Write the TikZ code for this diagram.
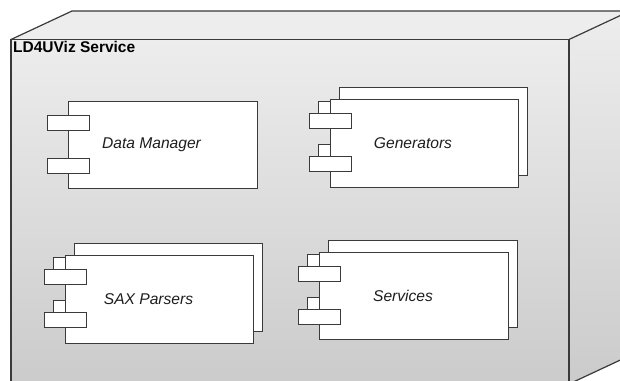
\documentclass[tikz,border=0pt]{standalone}
\usepackage{fontspec}
\setmainfont{Liberation Sans}
\definecolor{edge}{HTML}{3A3A3A}
\definecolor{faceTop}{HTML}{EDEDED}
\definecolor{faceLow}{HTML}{CBCBCB}
\definecolor{ink}{HTML}{1E1E1E}
\tikzset{
  boxline/.style={draw=edge, line width=1.2pt},
  compline/.style={draw=edge, line width=1pt, fill=white},
  complabel/.style={font=\fontsize{15.6}{18}\selectfont\itshape, text=ink, inner sep=0pt},
  nodetitle/.style={font=\fontsize{15.5}{18}\selectfont\bfseries, text=black, inner sep=0pt, anchor=north west}
}
% component: body rectangle (left, top, right, bottom) with its two port boxes
\newcommand\umlcomponent[4]{%
  \path[compline] (#1,#2) rectangle (#3,#4);
  \path[compline] (#1-21,#2+14) rectangle (#1+21,#2+29);
  \path[compline] (#1-21,#2+57) rectangle (#1+21,#2+72);
}
% stacked component: a second copy shifted up and to the right, behind
\newcommand\umlcomponentstack[4]{%
  \umlcomponent{#1+9.5}{#2-12}{#3+9.5}{#4-12}%
  \umlcomponent{#1}{#2}{#3}{#4}%
}
\begin{document}
\begin{tikzpicture}[x=1pt,y=-1pt]
  \useasboundingbox (0,0) rectangle (620,380);
  \clip (0,0) rectangle (620,380);
  \fill[white] (0,0) rectangle (620,380);

  % deployment node: 3-D box
  \coordinate (ftl) at (11,39.5);
  \coordinate (ftr) at (569,39.5);
  \coordinate (fbl) at (11,384);
  \coordinate (fbr) at (569,384);
  \coordinate (btl) at (72,11);
  \coordinate (btr) at (630,11);
  \coordinate (bbr) at (630,355.5);

  \shade[top color=faceTop, bottom color=faceLow] (ftl) rectangle (fbr);
  \fill[faceTop] (ftl) -- (btl) -- (btr) -- (ftr) -- cycle;
  \shade[top color=faceTop, bottom color=faceLow] (ftr) -- (btr) -- (bbr) -- (fbr) -- cycle;
  \draw[boxline] (fbl) -- (ftl) -- (ftr) -- (fbr);
  \draw[boxline] (ftl) -- (btl) -- (btr);
  \draw[boxline] (ftr) -- (btr) -- (bbr) -- (fbr);

  \node[nodetitle] (title) at (13,41.5) {LD4UViz Service};

  % components
  \umlcomponent{68}{101}{257}{188}
  \node[complabel] (dm) at (151.5,144.5) {Data Manager};

  \umlcomponentstack{330}{99}{518}{187}
  \node[complabel] (gen) at (413,143) {Generators};

  \umlcomponentstack{65}{255}{253}{343}
  \node[complabel] (sax) at (148.5,299) {SAX Parsers};

  \umlcomponentstack{319}{252}{508}{339}
  \node[complabel] (svc) at (403,295.5) {Services};
\end{tikzpicture}
\end{document}
